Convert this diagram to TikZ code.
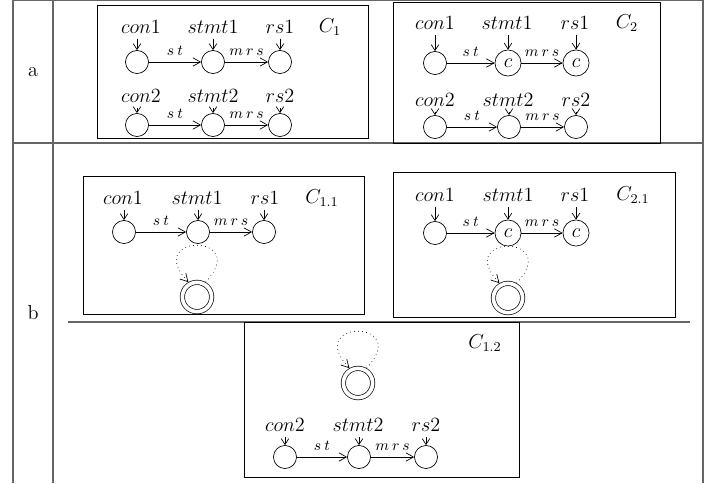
\documentclass[tikz,border=0pt]{standalone}
\usetikzlibrary{arrows.meta,calc}
\begin{document}
\begin{tikzpicture}[x=0.594pt,y=0.594pt,
  every node/.style={font=\fontsize{12}{14}\selectfont},
  stnode/.style={circle,draw,minimum size=13.7pt,inner sep=0pt},
  cnode/.style={circle,draw,minimum size=15.5pt,inner sep=0pt},
  finnode/.style={circle,draw,double,double distance=2.2pt,minimum size=17.4pt,inner sep=0pt,outer sep=1.5pt},
  lab/.style={inner sep=3pt},
  elab/.style={font=\fontsize{9}{10}\selectfont,inner sep=1pt,above=2.5pt},
  tarr/.style={-{Straight Barb[length=4.5pt,width=5pt]}},
  inarr/.style={-{Straight Barb[length=3.5pt,width=4.5pt]}},
  loopst/.style={dotted,-{Straight Barb[length=4.5pt,width=5pt]}},
  cbox/.style={draw,line width=0.5pt},
  tline/.style={draw=black!60,line width=0.7pt}]
\useasboundingbox (0,0) rectangle (712,483);
% table
\draw[tline] (13,0) -- (13,483);
\draw[tline] (53,0) -- (53,483);
\draw[tline] (703,0) -- (703,483);
\draw[tline] (13,482.5) -- (703,482.5);
\draw[tline] (13,340) -- (703,340);
\draw[tline] (68,161) -- (690,161);
\node (ra) at (33,411) {a};
\node (rb) at (33,170) {b};
% ---------- C1
\draw[cbox] (97,345) rectangle (368,478);
\node[lab] (p1) at (141,456) {$con1$};
\node[lab] (p2) at (213,456) {$stmt1$};
\node[lab] (p3) at (280,456) {$rs1$};
\node (pc) at (330,456) {$C_1$};
\node[stnode] (n1) at (137,421) {};
\node[stnode] (n2) at (213,421) {};
\node[stnode] (n3) at (280,421) {};
\draw[inarr] (p1.south -| n1) -- (n1);
\draw[inarr] (p2.south -| n2) -- (n2);
\draw[inarr] (p3.south -| n3) -- (n3);
\draw[tarr] (n1) -- node[elab] {$s\hspace{2pt}t$} (n2);
\draw[tarr] (n2) -- node[elab] {$m\hspace{1.8pt}r\hspace{1.8pt}s$} (n3);
\node[lab] (q1) at (141,387) {$con2$};
\node[lab] (q2) at (213,387) {$stmt2$};
\node[lab] (q3) at (280,387) {$rs2$};
\node[stnode] (m1) at (137,358) {};
\node[stnode] (m2) at (213,358) {};
\node[stnode] (m3) at (280,358) {};
\draw[inarr] (q1.south -| m1) -- (m1);
\draw[inarr] (q2.south -| m2) -- (m2);
\draw[inarr] (q3.south -| m3) -- (m3);
\draw[tarr] (m1) -- node[elab] {$s\hspace{2pt}t$} (m2);
\draw[tarr] (m2) -- node[elab] {$m\hspace{1.8pt}r\hspace{1.8pt}s$} (m3);
% ---------- C2
\draw[cbox] (393,340) rectangle (660,481);
\node[lab] (u1) at (435,460) {$con1$};
\node[lab] (u2) at (507,460) {$stmt1$};
\node[lab] (u3) at (575,460) {$rs1$};
\node (uc) at (627,460) {$C_2$};
\node[stnode] (k1) at (435,420) {};
\node[cnode] (k2) at (508,420) {$c$};
\node[cnode] (k3) at (576,420) {$c$};
\draw[inarr] (u1.south -| k1) -- (k1);
\draw[inarr] (u2.south -| k2) -- (k2);
\draw[inarr] (u3.south -| k3) -- (k3);
\draw[tarr] (k1) -- node[elab] {$s\hspace{2pt}t$} (k2);
\draw[tarr] (k2) -- node[elab] {$m\hspace{1.8pt}r\hspace{1.8pt}s$} (k3);
\node[lab] (v1) at (435,383) {$con2$};
\node[lab] (v2) at (508,383) {$stmt2$};
\node[lab] (v3) at (576,383) {$rs2$};
\node[stnode] (j1) at (435,356) {};
\node[stnode] (j2) at (509,356) {};
\node[stnode] (j3) at (576,356) {};
\draw[inarr] (v1.south -| j1) -- (j1);
\draw[inarr] (v2.south -| j2) -- (j2);
\draw[inarr] (v3.south -| j3) -- (j3);
\draw[tarr] (j1) -- node[elab] {$s\hspace{2pt}t$} (j2);
\draw[tarr] (j2) -- node[elab] {$m\hspace{1.8pt}r\hspace{1.8pt}s$} (j3);
% ---------- C1.1
\draw[cbox] (83,169) rectangle (364,307);
\node[lab] (w1) at (123,285) {$con1$};
\node[lab] (w2) at (197,285) {$stmt1$};
\node[lab] (w3) at (265,285) {$rs1$};
\node (wc) at (322,285) {$C_{1.1}$};
\node[stnode] (h1) at (124,251) {};
\node[stnode] (h2) at (198,251) {};
\node[stnode] (h3) at (264,251) {};
\draw[inarr] (w1.south -| h1) -- (h1);
\draw[inarr] (w2.south -| h2) -- (h2);
\draw[inarr] (w3.south -| h3) -- (h3);
\draw[tarr] (h1) -- node[elab] {$s\hspace{2pt}t$} (h2);
\draw[tarr] (h2) -- node[elab] {$m\hspace{1.8pt}r\hspace{1.8pt}s$} (h3);
\node[finnode] (d1) at (197,186) {};
\draw[loopst] (d1.60) .. controls ($(d1)+(55,64)$) and ($(d1)+(-55,64)$) .. (d1.120);
% ---------- C2.1
\draw[cbox] (393,166) rectangle (675,311);
\node[lab] (x1) at (435,288) {$con1$};
\node[lab] (x2) at (508,288) {$stmt1$};
\node[lab] (x3) at (575,288) {$rs1$};
\node (xc) at (633,288) {$C_{2.1}$};
\node[stnode] (g1) at (435,250) {};
\node[cnode] (g2) at (508,250) {$c$};
\node[cnode] (g3) at (576,250) {$c$};
\draw[inarr] (x1.south -| g1) -- (g1);
\draw[inarr] (x2.south -| g2) -- (g2);
\draw[inarr] (x3.south -| g3) -- (g3);
\draw[tarr] (g1) -- node[elab] {$s\hspace{2pt}t$} (g2);
\draw[tarr] (g2) -- node[elab] {$m\hspace{1.8pt}r\hspace{1.8pt}s$} (g3);
\node[finnode] (d2) at (508,185) {};
\draw[loopst] (d2.60) .. controls ($(d2)+(55,64)$) and ($(d2)+(-55,64)$) .. (d2.120);
% ---------- C1.2
\draw[cbox] (244,6) rectangle (519,161);
\node (yc) at (485,140) {$C_{1.2}$};
\node[finnode] (d3) at (358,100) {};
\draw[loopst] (d3.60) .. controls ($(d3)+(55,64)$) and ($(d3)+(-55,64)$) .. (d3.120);
\node[lab] (z1) at (285,58) {$con2$};
\node[lab] (z2) at (358,58) {$stmt2$};
\node[lab] (z3) at (426,58) {$rs2$};
\node[stnode] (f1) at (285,26) {};
\node[stnode] (f2) at (359,26) {};
\node[stnode] (f3) at (426,26) {};
\draw[inarr] (z1.south -| f1) -- (f1);
\draw[inarr] (z2.south -| f2) -- (f2);
\draw[inarr] (z3.south -| f3) -- (f3);
\draw[tarr] (f1) -- node[elab] {$s\hspace{2pt}t$} (f2);
\draw[tarr] (f2) -- node[elab] {$m\hspace{1.8pt}r\hspace{1.8pt}s$} (f3);
\end{tikzpicture}
\end{document}
